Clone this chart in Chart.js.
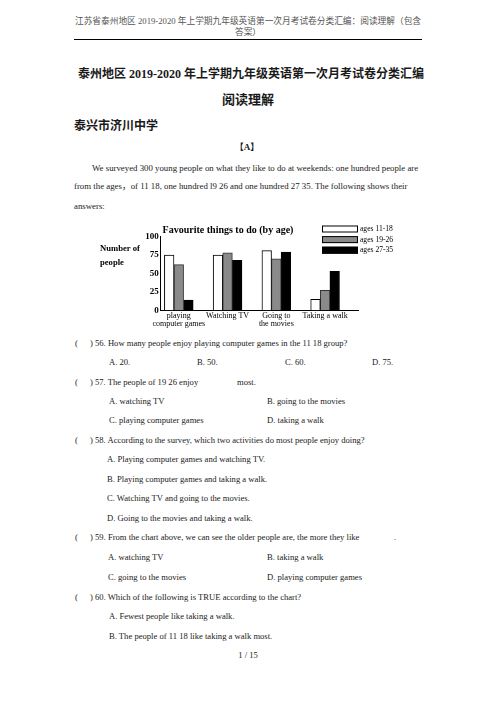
<!DOCTYPE html>
<html>
<head>
<meta charset="utf-8">
<script src="https://cdn.jsdelivr.net/npm/chart.js@4/dist/chart.umd.min.js"></script>
<style>
body { margin: 0; background: #fff; width: 496px; height: 702px; position: relative; overflow: hidden;
       font-family: "Liberation Serif", "Noto Sans CJK SC", serif; color: #1a1a1a; }
.l { position: absolute; white-space: nowrap; line-height: 12px; font-size: 8.6px; }
.hd { position: absolute; left: 0; width: 496px; text-align: center; font-size: 8.7px; line-height: 11px; color: #555; top: 16px; white-space: nowrap; }
.rule { position: absolute; left: 74px; width: 348px; top: 39px; border-top: 1px solid #000; }
.b { font-weight: bold; }
#box { position: absolute; left: 90px; top: 216px; width: 320px; height: 118px; }
</style>
</head>
<body>
<div class="hd">江苏省泰州地区 2019-2020 年上学期九年级英语第一次月考试卷分类汇编：阅读理解（包含<br>答案）</div>
<div class="rule"></div>

<div class="l b" style="left:0;width:502px;text-align:center;top:67px;font-size:12px;line-height:14px;">泰州地区 2019-2020 年上学期九年级英语第一次月考试卷分类汇编</div>
<div class="l b" style="left:0;width:496px;text-align:center;top:92px;font-size:13px;line-height:15px;">阅读理解</div>
<div class="l b" style="left:74px;top:119px;font-size:12px;line-height:14px;">泰兴市济川中学</div>
<div class="l b" style="left:0;width:494px;text-align:center;top:141px;font-size:9px;">【A】</div>

<div class="l" style="left:92px;top:162px;font-size:8.8px;">We surveyed 300 young people on what they like to do at weekends: one hundred people are</div>
<div class="l" style="left:74px;top:180px;font-size:8.8px;">from the ages，of 11 18, one hundred l9 26 and one hundred 27 35. The following shows their</div>
<div class="l" style="left:74px;top:200px;font-size:8.8px;">answers:</div>

<div id="box"><canvas id="chart1"></canvas></div>

<div class="l" style="left:75px;top:337px;">(</div>
<div class="l" style="left:90px;top:337px;">) 56. How many people enjoy playing computer games in the 11 18 group?</div>
<div class="l" style="left:109px;top:356px;">A. 20.</div>
<div class="l" style="left:197px;top:356px;">B. 50.</div>
<div class="l" style="left:285px;top:356px;">C. 60.</div>
<div class="l" style="left:372px;top:356px;">D. 75.</div>
<div class="l" style="left:75px;top:376px;">(</div>
<div class="l" style="left:90px;top:376px;">) 57. The people of 19 26 enjoy</div>
<div class="l" style="left:237px;top:376px;">most.</div>
<div class="l" style="left:109px;top:395px;">A. watching TV</div>
<div class="l" style="left:267px;top:395px;">B. going to the movies</div>
<div class="l" style="left:109px;top:414px;">C. playing computer games</div>
<div class="l" style="left:267px;top:414px;">D. taking a walk</div>
<div class="l" style="left:75px;top:434px;">(</div>
<div class="l" style="left:90px;top:434px;">) 58. According to the survey, which two activities do most people enjoy doing?</div>
<div class="l" style="left:107px;top:453px;">A. Playing computer games and watching TV.</div>
<div class="l" style="left:107px;top:473px;">B. Playing computer games and taking a walk.</div>
<div class="l" style="left:107px;top:492px;">C. Watching TV and going to the movies.</div>
<div class="l" style="left:107px;top:512px;">D. Going to the movies and taking a walk.</div>
<div class="l" style="left:75px;top:531px;">(</div>
<div class="l" style="left:90px;top:531px;">) 59. From the chart above, we can see the older people are, the more they like</div>
<div class="l" style="left:394px;top:531px;">.</div>
<div class="l" style="left:108px;top:551px;">A. watching TV</div>
<div class="l" style="left:267px;top:551px;">B. taking a walk</div>
<div class="l" style="left:108px;top:571px;">C. going to the movies</div>
<div class="l" style="left:267px;top:571px;">D. playing computer games</div>
<div class="l" style="left:75px;top:591px;">(</div>
<div class="l" style="left:90px;top:591px;">) 60. Which of the following is TRUE according to the chart?</div>
<div class="l" style="left:109px;top:610px;">A. Fewest people like taking a walk.</div>
<div class="l" style="left:109px;top:630px;">B. The people of 11 18 like taking a walk most.</div>
<div class="l" style="left:0;width:496px;text-align:center;top:649px;">1 / 15</div>

<script>
// activities on the x axis
var activities = [["playing", "computer games"], "Watching TV", ["Going to", "the movies"], "Taking a walk"];
var yTicks = [0, 25, 50, 75, 100];

// number of people per age group
var ages11to18 = [75, 75, 81, 15];
var ages19to26 = [62, 78, 70, 27];
var ages27to35 = [14, 68, 79, 53];

function points(arr) {
    return arr.map(function (v, i) { return { x: i, y: v }; });
}

// title, y label and legend drawn on the canvas
var extras = {
    id: 'extras',
    afterDraw: function (chart) {
        var ctx = chart.ctx;
        ctx.save();
        ctx.fillStyle = '#000';
        ctx.textBaseline = 'middle';
        ctx.textAlign = 'center';
        ctx.font = 'bold 10px "Liberation Serif"';
        ctx.fillText('Favourite things to do (by age)', 138, 14);
        ctx.textAlign = 'left';
        ctx.font = 'bold 8.6px "Liberation Serif"';
        ctx.fillText('Number of', 10, 33);
        ctx.fillText('people', 10, 46.5);
        ctx.font = '7.6px "Liberation Serif"';
        chart.data.datasets.forEach(function (ds, i) {
            var y = 9.5 + i * 10.6;
            ctx.fillStyle = ds.backgroundColor;
            ctx.fillRect(232, y, 36, 7);
            ctx.strokeStyle = '#000';
            ctx.lineWidth = 1;
            ctx.strokeRect(232.5, y + 0.5, 35, 6);
            ctx.fillStyle = '#000';
            ctx.fillText(ds.label, 270, y + 3.5);
        });
        ctx.restore();
    }
};

var chart1 = document.getElementById('chart1').getContext('2d');
var myChart1 = new Chart(chart1, {
    type: 'bar',
    data: {
        datasets: [{
            label: "ages 11-18",
            data: points(ages11to18),
            backgroundColor: '#ffffff',
            borderColor: '#000',
            borderWidth: 1,
            barThickness: 9.6
        }, {
            label: "ages 19-26",
            data: points(ages19to26),
            backgroundColor: '#8a8a8a',
            borderColor: '#333',
            borderWidth: 1,
            barThickness: 9.6
        }, {
            label: "ages 27-35",
            data: points(ages27to35),
            backgroundColor: '#000000',
            borderColor: '#000',
            borderWidth: 1,
            barThickness: 9.6
        }]
    },
    options: {
        responsive: true,
        maintainAspectRatio: false,
        animation: false,
        layout: { padding: { left: 0, right: 52, top: 20.7, bottom: 0 } },
        plugins: {
            legend: { display: false },
            title: { display: false },
            tooltip: { enabled: false }
        },
        scales: {
            x: {
                type: 'linear',
                offset: false,
                min: -0.371,
                max: 3.675,
                grid: { display: false, offset: false, drawTicks: false },
                border: { display: true, color: '#000', width: 1 },
                afterFit: function (s) { s.height = 23.7; },
                afterBuildTicks: function (s) {
                    s.ticks = activities.map(function (a, i) { return { value: i }; });
                },
                ticks: {
                    padding: 2.5,
                    maxRotation: 0,
                    autoSkip: false,
                    color: '#000',
                    font: { family: 'Liberation Serif', size: 8, lineHeight: 0.9 },
                    callback: function (v) { return activities[v]; }
                }
            },
            y: {
                min: 0,
                max: 100,
                grid: { display: false, drawTicks: false },
                border: { display: true, color: '#000', width: 1 },
                afterFit: function (s) { s.width = 70.7; },
                afterBuildTicks: function (s) {
                    s.ticks = yTicks.map(function (v) { return { value: v }; });
                },
                ticks: {
                    padding: 2,
                    color: '#000',
                    font: { family: 'Liberation Serif', size: 9, weight: 'bold' }
                }
            }
        }
    },
    plugins: [extras]
});
</script>
</body>
</html>
